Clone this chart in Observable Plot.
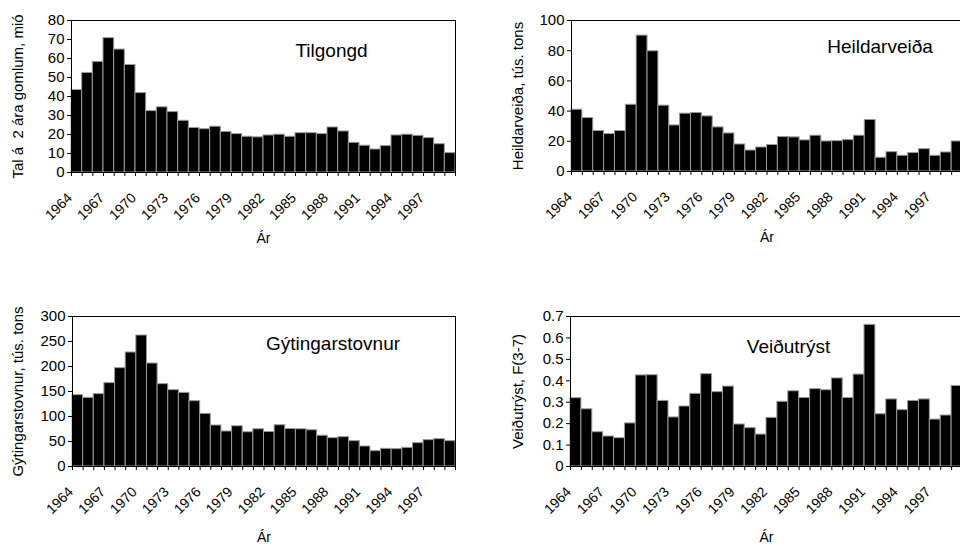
<!DOCTYPE html>
<html><head><meta charset="utf-8">
<script src="https://cdn.jsdelivr.net/npm/d3@7"></script>
<script src="https://cdn.jsdelivr.net/npm/@observablehq/plot@0.6"></script>
<style>
html,body{margin:0;padding:0;background:#fff;overflow:hidden;width:960px;height:545px}
#wrap{position:relative;width:960px;height:545px;overflow:hidden;font-family:"Liberation Sans",Arial,sans-serif}
.panel{position:absolute}
.panel svg{overflow:visible;max-width:none !important}
.panel text{white-space:pre}
</style></head><body><div id="wrap"></div>
<script>
const years = [1964,1965,1966,1967,1968,1969,1970,1971,1972,1973,1974,1975,1976,1977,1978,1979,1980,1981,1982,1983,1984,1985,1986,1987,1988,1989,1990,1991,1992,1993,1994,1995,1996,1997,1998,1999];
const labelYears = [1964,1967,1970,1973,1976,1979,1982,1985,1988,1991,1994,1997];
const boundaryYears = [1964,1965,1966,1967,1968,1969,1970,1971,1972,1973,1974,1975,1976,1977,1978,1979,1980,1981,1982,1983,1984,1985,1986,1987,1988,1989,1990,1991,1992,1993,1994,1995,1996,1997,1998,1999,2000];

const tilgongd = [43.4,52.4,58.2,70.7,64.7,56.6,41.8,32.3,34.3,31.8,27.2,23.4,22.8,24.1,21.3,20.2,18.8,18.5,19.5,19.9,18.8,20.7,20.7,20.2,23.7,21.6,15.6,14.1,12.1,13.9,19.5,19.9,19.3,18.1,14.9,10.2];
const heildarveida = [40.9,35.4,26.8,24.8,26.8,44.2,90.0,79.6,43.6,30.5,38.3,38.7,36.5,29.2,25.2,17.9,13.9,15.9,17.5,22.8,22.6,20.6,23.7,19.9,20.1,20.8,23.7,34.1,9.1,12.8,10.4,12.2,14.8,10.4,12.6,19.9];
const gytingarstovnur = [142.7,137.3,144.7,166.7,196.7,228,262,206,164.7,152.7,147.3,130.7,105.3,82,70,80.5,68.5,74.5,69,82.5,75,74.5,72.5,61.5,56.7,58.7,50.7,40,30.7,35.3,34.7,37.3,46.7,52.7,54.7,50.7];
const veidutryst = [0.319,0.267,0.160,0.140,0.132,0.201,0.425,0.426,0.306,0.229,0.280,0.339,0.431,0.347,0.373,0.196,0.179,0.149,0.227,0.302,0.351,0.320,0.361,0.356,0.411,0.320,0.429,0.661,0.244,0.313,0.263,0.306,0.313,0.219,0.238,0.376];

const ticksA = [0,10,20,30,40,50,60,70,80];
const ticksB = [0,20,40,60,80,100];
const ticksC = [0,50,100,150,200,250,300];
const ticksD = [0,0.1,0.2,0.3,0.4,0.5,0.6,0.7];

const panels = [
  {left:0, top:0, width:480, height:272, ml:71, mr:25, mt:20, mb:100, values:tilgongd, ymax:80, ticks:ticksA, fmt:d=>String(d),
   ylabel:"Tal á  2 ára gomlum, mió", title:"Tilgongd", tdx:68, tdy:30, labelOffset:59, xlabOffset:66},
  {left:480, top:0, width:490, height:272, ml:91, mr:8, mt:20, mb:101, values:heildarveida, ymax:100, ticks:ticksB, fmt:d=>String(d),
   ylabel:"Heildarveiða, tús. tons", title:"Heildarveiða", tdx:113, tdy:26, labelOffset:59, xlabOffset:66},
  {left:0, top:296, width:480, height:249, ml:72, mr:25, mt:20, mb:79, values:gytingarstovnur, ymax:300, ticks:ticksC, fmt:d=>String(d),
   ylabel:"Gýtingarstovnur, tús. tons", title:"Gýtingarstovnur", tdx:69, tdy:27, labelOffset:60, xlabOffset:71},
  {left:480, top:296, width:490, height:249, ml:90, mr:8, mt:20, mb:79, values:veidutryst, ymax:0.7, ticks:ticksD, fmt:d=>d===0?"0":d.toFixed(1),
   ylabel:"Veiðutrýst, F(3-7)", title:"Veiðutrýst", tdx:22, tdy:30, labelOffset:58, xlabOffset:71}
];

const wrap = document.getElementById("wrap");
for (const p of panels) {
  const data = years.map((y, i) => ({year: y, value: p.values[i]}));
  const chart = Plot.plot({
    width: p.width, height: p.height,
    marginLeft: p.ml, marginRight: p.mr, marginTop: p.mt, marginBottom: p.mb,
    style: {fontFamily: '"Liberation Sans", Arial, sans-serif', fontSize: "15px", color: "black", background: "white", maxWidth: "none"},
    x: {domain: [1964, 2000], axis: null},
    y: {domain: [0, p.ymax], axis: null},
    marks: [
      Plot.rectY(data, {x1: "year", x2: d => d.year + 1, y: "value", fill: "black", stroke: "#9a9a9a", strokeWidth: 1}),
      Plot.frame({stroke: "black", strokeWidth: 1}),
      Plot.axisY({ticks: p.ticks, tickFormat: p.fmt, tickSize: 4, tickPadding: 3, fontSize: 15,
        label: p.ylabel, labelAnchor: "center", labelArrow: "none", labelOffset: p.labelOffset}),
      Plot.axisX({ticks: boundaryYears, tickFormat: () => "", tickSize: 4, label: null}),
      Plot.text(labelYears, {x: d => d + 0.5, frameAnchor: "bottom", text: d => String(d), rotate: -45,
        textAnchor: "end", lineAnchor: "middle", dy: 23, dx: -7, fontSize: 14}),
      Plot.text(["Ár"], {frameAnchor: "bottom", lineAnchor: "middle", text: d => d, dy: p.xlabOffset, fontSize: 14}),
      Plot.text([p.title], {frameAnchor: "top", lineAnchor: "middle", text: d => d, dx: p.tdx, dy: p.tdy, fontSize: 19})
    ]
  });
  const div = document.createElement("div");
  div.className = "panel";
  div.style.left = p.left + "px";
  div.style.top = p.top + "px";
  div.style.width = p.width + "px";
  div.style.height = p.height + "px";
  div.appendChild(chart);
  wrap.appendChild(div);
}
</script>
</body></html>
